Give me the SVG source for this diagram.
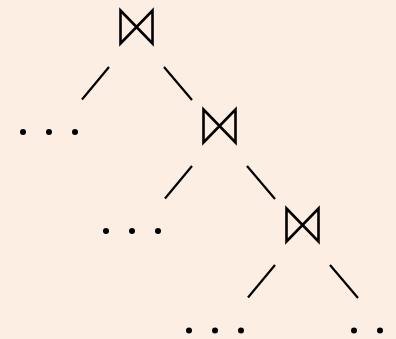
<svg xmlns="http://www.w3.org/2000/svg" width="396" height="339" viewBox="0 0 396 339">
<defs>
<style>
.bt{fill:none;stroke:#000;stroke-width:2.6;stroke-linejoin:miter}
.ln{stroke:#000;stroke-width:2.2;fill:none}
.dot{fill:#000}
</style>
<path id="bowtie" class="bt" d="M0,0 L32,33 L32,0 L0,33 Z"/>
</defs>
<rect width="396" height="339" fill="#FDEEE3"/>
<g id="join1"><use href="#bowtie" x="120.5" y="10.5"/></g>
<g id="join2"><use href="#bowtie" x="203.5" y="109.5"/></g>
<g id="join3"><use href="#bowtie" x="286.5" y="208.5"/></g>
<g id="dots1"><circle class="dot" cx="23" cy="132" r="3"/><circle class="dot" cx="49" cy="132" r="3"/><circle class="dot" cx="75" cy="132" r="3"/></g>
<g id="dots2"><circle class="dot" cx="106" cy="231" r="3"/><circle class="dot" cx="132" cy="231" r="3"/><circle class="dot" cx="158" cy="231" r="3"/></g>
<g id="dots3"><circle class="dot" cx="189" cy="330.5" r="3"/><circle class="dot" cx="215" cy="330.5" r="3"/><circle class="dot" cx="241" cy="330.5" r="3"/></g>
<g id="dots4"><circle class="dot" cx="354" cy="330.5" r="3"/><circle class="dot" cx="380" cy="330.5" r="3"/><circle class="dot" cx="406" cy="330.5" r="3"/></g>
<g id="connectors">
<line class="ln" x1="109" y1="67" x2="82" y2="99.5"/>
<line class="ln" x1="164" y1="67" x2="192" y2="100"/>
<line class="ln" x1="192" y1="166" x2="165" y2="198.5"/>
<line class="ln" x1="247" y1="166" x2="275" y2="199"/>
<line class="ln" x1="275" y1="265" x2="248" y2="297.5"/>
<line class="ln" x1="330" y1="265" x2="358" y2="298"/>
</g>
</svg>
